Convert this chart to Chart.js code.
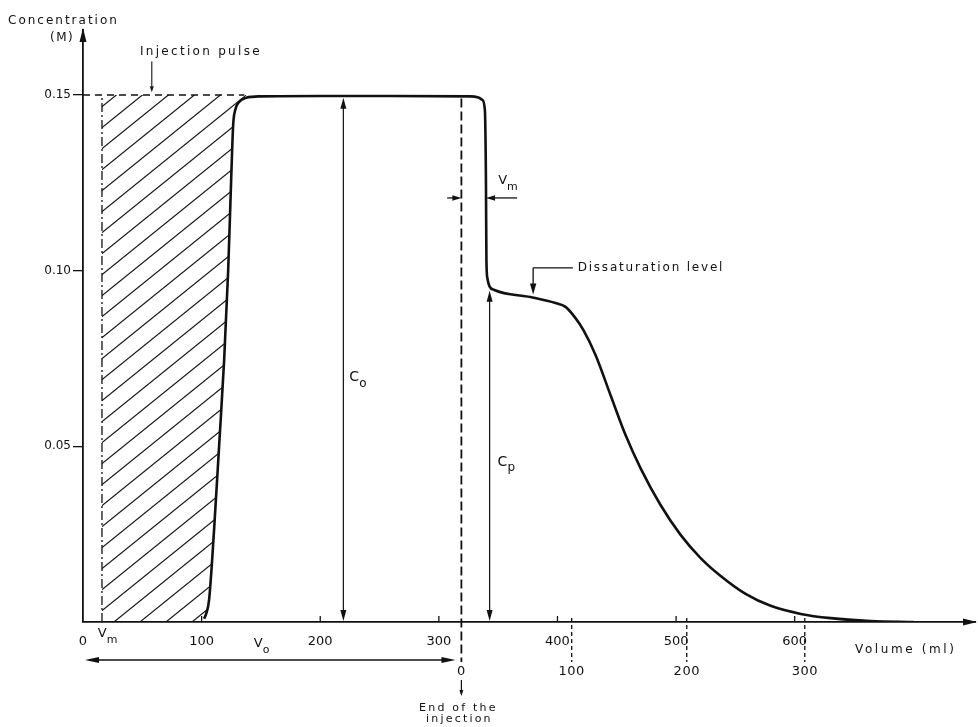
<!DOCTYPE html>
<html><head><meta charset="utf-8">
<script src="https://cdn.jsdelivr.net/npm/chart.js@4.4.1/dist/chart.umd.min.js"></script>
<style>html,body{margin:0;padding:0;background:#fff;}canvas{display:block;}</style>
</head><body>
<canvas id="c" width="978" height="727" style="width:978px;height:727px"></canvas>
<script>
// ---- data ----
const curveVolume = [102.1,103.8,106.3,110.5,114.8,119.0,122.4,124.9,126.6,128.3,131.6,137.6,149.4,200,260,326.6,333.3,336.7,338.8,339.7,340.1,340.9,342.6,346.8,377.2,398.3,406.8,415.2,421.9,432.1,444.7,457.4,470.0,486.9,503.8,520.7,537.6,558.6,579.7,605.1,630.4,664.1,700];
const curveConc   = [0.0009,0.0023,0.0063,0.0262,0.0504,0.0746,0.1002,0.1258,0.1415,0.1457,0.1480,0.1492,0.1496,0.1497,0.1497,0.1496,0.1493,0.1486,0.1457,0.1258,0.1030,0.0979,0.0956,0.0945,0.0925,0.0908,0.0897,0.0865,0.0831,0.0760,0.0646,0.0532,0.0438,0.0333,0.0248,0.0182,0.0131,0.0080,0.0046,0.0023,0.0011,0.0003,0];
const xTickValues = [0,100,200,300,400,500,600];
const yTickValues = [0.05,0.10,0.15];
const pulseConc = 0.15;
const pulseEndVolume = 136;
const vmVolume = 16;
const injectionEndVolume = 319;
const secondaryTickVolumes = [319,412,509,608.5];
const secondaryTickLabels = ['0','100','200','300'];
const coVolume = 219.5, coTop = 0.1492;
const cpVolume = 342.8, cpTop = 0.0943;
const vmArrowConc = 0.1207, vmArrowFrom = 307, vmArrowTo = 366;
const voArrowEnd = 314;
const dissatVolume = 379.5;

const X_MIN = 0, X_MAX = 752, Y_MIN = 0, Y_MAX = 0.1685;

const curvePts = curveVolume.map((v,i)=>({x:v,y:curveConc[i]}));
const hatchPts = [{x:vmVolume,y:0},{x:curveVolume[0]-0.5,y:0}]
  .concat(curvePts.filter(p=>p.x<=pulseEndVolume));
hatchPts.push({x:pulseEndVolume+2,y:pulseConc});

const canvas = document.getElementById('c');
const mainCtx = canvas.getContext('2d');
function makeHatch(){
  const w=26,h=21;
  const c=document.createElement('canvas'); c.width=w; c.height=h;
  const g=c.getContext('2d');
  g.strokeStyle='#161616'; g.lineWidth=1.2;
  for(const off of [-w,0,w]){
    g.beginPath(); g.moveTo(-w+off,2*h); g.lineTo(2*w+off,-h); g.stroke();
  }
  return mainCtx.createPattern(c,'repeat');
}

function arrowHead(ctx,x,y,dx,dy,len=10,half=3){
  const L=Math.hypot(dx,dy); dx/=L; dy/=L;
  ctx.beginPath();
  ctx.moveTo(x,y);
  ctx.lineTo(x-dx*len-dy*half, y-dy*len+dx*half);
  ctx.lineTo(x-dx*len+dy*half, y-dy*len-dx*half);
  ctx.closePath(); ctx.fill();
}
function line(ctx,x1,y1,x2,y2,w=1.2,dash=[]){
  ctx.save(); ctx.lineWidth=w; ctx.setLineDash(dash);
  ctx.beginPath(); ctx.moveTo(x1,y1); ctx.lineTo(x2,y2); ctx.stroke(); ctx.restore();
}
const FONT='"DejaVu Sans", sans-serif';
function text(ctx,s,x,y,size=12,align='left',spacing=0){
  ctx.save(); ctx.font=size+'px '+FONT; ctx.textAlign=align; ctx.textBaseline='middle';
  try{ctx.letterSpacing=spacing+'px';}catch(e){}
  ctx.fillText(s,x,y); ctx.restore();
}
function sub(ctx,main,s,x,y,size=13){
  ctx.save(); ctx.font=size+'px '+FONT; ctx.textBaseline='middle'; ctx.textAlign='left';
  ctx.fillText(main,x,y); const w=ctx.measureText(main).width;
  ctx.font=Math.round(size*0.85)+'px '+FONT; ctx.fillText(s,x+w,y+6); ctx.restore();
}

const annot = {
  id:'annot',
  afterDatasetsDraw(chart){
    const {ctx, scales:{x,y}, chartArea:ca} = chart;
    const X=v=>x.getPixelForValue(v), Y=c=>y.getPixelForValue(c);
    ctx.save();
    ctx.strokeStyle='#111'; ctx.fillStyle='#111';
    // axis arrows
    arrowHead(ctx,ca.left,ca.top-2,0,-1,14,3.5);
    arrowHead(ctx,ca.right+2,ca.bottom,1,0,14,3.5);
    // x tick marks (upward)
    for(const v of xTickValues.slice(1)) line(ctx,X(v),ca.bottom,X(v),ca.bottom-6,1.3);
    // secondary dashed ticks
    secondaryTickVolumes.forEach((v,i)=>{
      if(i>0) line(ctx,X(v),ca.bottom-4,X(v),ca.bottom+40,1.3,[4,3]);
      text(ctx,secondaryTickLabels[i],X(v),ca.bottom+50,13,'center',0.5);
    });
    // end of injection arrow + text
    const ex=X(injectionEndVolume);
    line(ctx,ex,ca.bottom+58,ex,ca.bottom+72,1.2);
    arrowHead(ctx,ex,ca.bottom+74,0,1,6,2);
    text(ctx,'End of the',ex-3,ca.bottom+86,11,'center',2.2);
    text(ctx,'injection',ex-2,ca.bottom+97,11,'center',2.2);
    // Co arrow
    const cx=X(coVolume);
    line(ctx,cx,Y(coTop)+8,cx,ca.bottom-8,1.2);
    arrowHead(ctx,cx,Y(coTop),0,-1,11,3); arrowHead(ctx,cx,ca.bottom-1,0,1,11,3);
    sub(ctx,'C','o',cx+6,Y(0.0695),14);
    // Cp arrow
    const px=X(cpVolume);
    line(ctx,px,Y(cpTop)+8,px,ca.bottom-8,1.2);
    arrowHead(ctx,px,Y(cpTop),0,-1,11,3); arrowHead(ctx,px,ca.bottom-1,0,1,11,3);
    sub(ctx,'C','p',px+8,Y(0.0455),14);
    // Vm arrows near the drop
    const vy=Y(vmArrowConc);
    line(ctx,X(vmArrowFrom),vy,X(injectionEndVolume)-6,vy,1.3);
    arrowHead(ctx,X(injectionEndVolume),vy,1,0,9,2.8);
    line(ctx,X(vmArrowTo),vy,X(339.8)+6,vy,1.3);
    arrowHead(ctx,X(339.8),vy,-1,0,9,2.8);
    sub(ctx,'V','m',X(350),vy-17,13);
    // Vo arrow below axis
    const oy=ca.bottom+38;
    line(ctx,X(0)+6,oy,X(voArrowEnd)-6,oy,1.3);
    arrowHead(ctx,X(0)+2,oy,-1,0,14,3); arrowHead(ctx,X(voArrowEnd),oy,1,0,14,3);
    sub(ctx,'V','o',X(144),ca.bottom+22,13);
    // Vm label at axis
    sub(ctx,'V','m',X(12.5),ca.bottom+12,13);
    // Injection pulse label + arrow
    text(ctx,'Injection pulse',X(48),Y(0.1622),12,'left',2.3);
    line(ctx,X(58),Y(0.1595),X(58),Y(0.1525),1.1);
    arrowHead(ctx,X(58),Y(0.1508),0,1,6,2);
    // Dissaturation level
    const dx=X(dissatVolume), dy=Y(0.1008);
    line(ctx,dx,dy,X(413),dy,1.3);
    line(ctx,dx,dy,dx,Y(0.0952),1.3);
    arrowHead(ctx,dx,Y(0.0932),0,1,11,3.2);
    text(ctx,'Dissaturation level',X(417),dy,12,'left',1.8);
    // axis titles
    text(ctx,'Concentration',8,21,12,'left',2);
    text(ctx,'(M)',50,38,12,'left',1.5);
    text(ctx,'Volume (ml)',855,ca.bottom+28,12,'left',2.6);
    ctx.restore();
  }
};

new Chart(canvas,{
  type:'scatter',
  data:{datasets:[
    {data:hatchPts, showLine:true, borderWidth:0, borderColor:'rgba(0,0,0,0)',
     backgroundColor:makeHatch(), fill:{value:pulseConc}, pointRadius:0, order:5},
    {data:[{x:0,y:pulseConc},{x:pulseEndVolume,y:pulseConc}], showLine:true,
     borderColor:'#111', borderWidth:1.4, borderDash:[7,5], pointRadius:0, fill:false},
    {data:[{x:vmVolume,y:0},{x:vmVolume,y:pulseConc}], showLine:true,
     borderColor:'#111', borderWidth:1.3, borderDash:[9,3,2,3], pointRadius:0, fill:false},
    {data:[{x:injectionEndVolume,y:0.1490},{x:injectionEndVolume,y:-0.0114}], showLine:true, clip:false,
     borderColor:'#111', borderWidth:1.8, borderDash:[9,4], pointRadius:0, fill:false},
    {data:curvePts, showLine:true, borderColor:'#111', borderWidth:2.6,
     cubicInterpolationMode:'monotone', pointRadius:0, fill:false, order:0}
  ]},
  options:{
    responsive:false, animation:false, events:[],
    layout:{padding:{top:30,right:3,left:0,bottom:0}},
    plugins:{legend:{display:false}, tooltip:{enabled:false}},
    elements:{point:{radius:0}},
    scales:{
      x:{type:'linear', min:X_MIN, max:X_MAX,
         afterBuildTicks:s=>{s.ticks=xTickValues.map(v=>({value:v}));},
         afterFit:s=>{s.height=105;},
         grid:{display:false, drawTicks:false},
         border:{display:true,color:'#111',width:1.8},
         ticks:{padding:12, color:'#111', maxRotation:0, autoSkip:false,
                font:{family:'DejaVu Sans', size:13}, callback:v=>String(v)}},
      y:{type:'linear', min:Y_MIN, max:Y_MAX,
         afterBuildTicks:s=>{s.ticks=yTickValues.map(v=>({value:v}));},
         afterFit:s=>{s.width=83;},
         grid:{display:true, drawOnChartArea:false, drawTicks:true, tickLength:10, color:'#111', lineWidth:1.3},
         border:{display:true,color:'#111',width:1.8},
         ticks:{padding:2, color:'#111', font:{family:'DejaVu Sans', size:12}, callback:v=>Number(v).toFixed(2)}}
    }
  },
  plugins:[annot]
});
</script>
</body></html>
